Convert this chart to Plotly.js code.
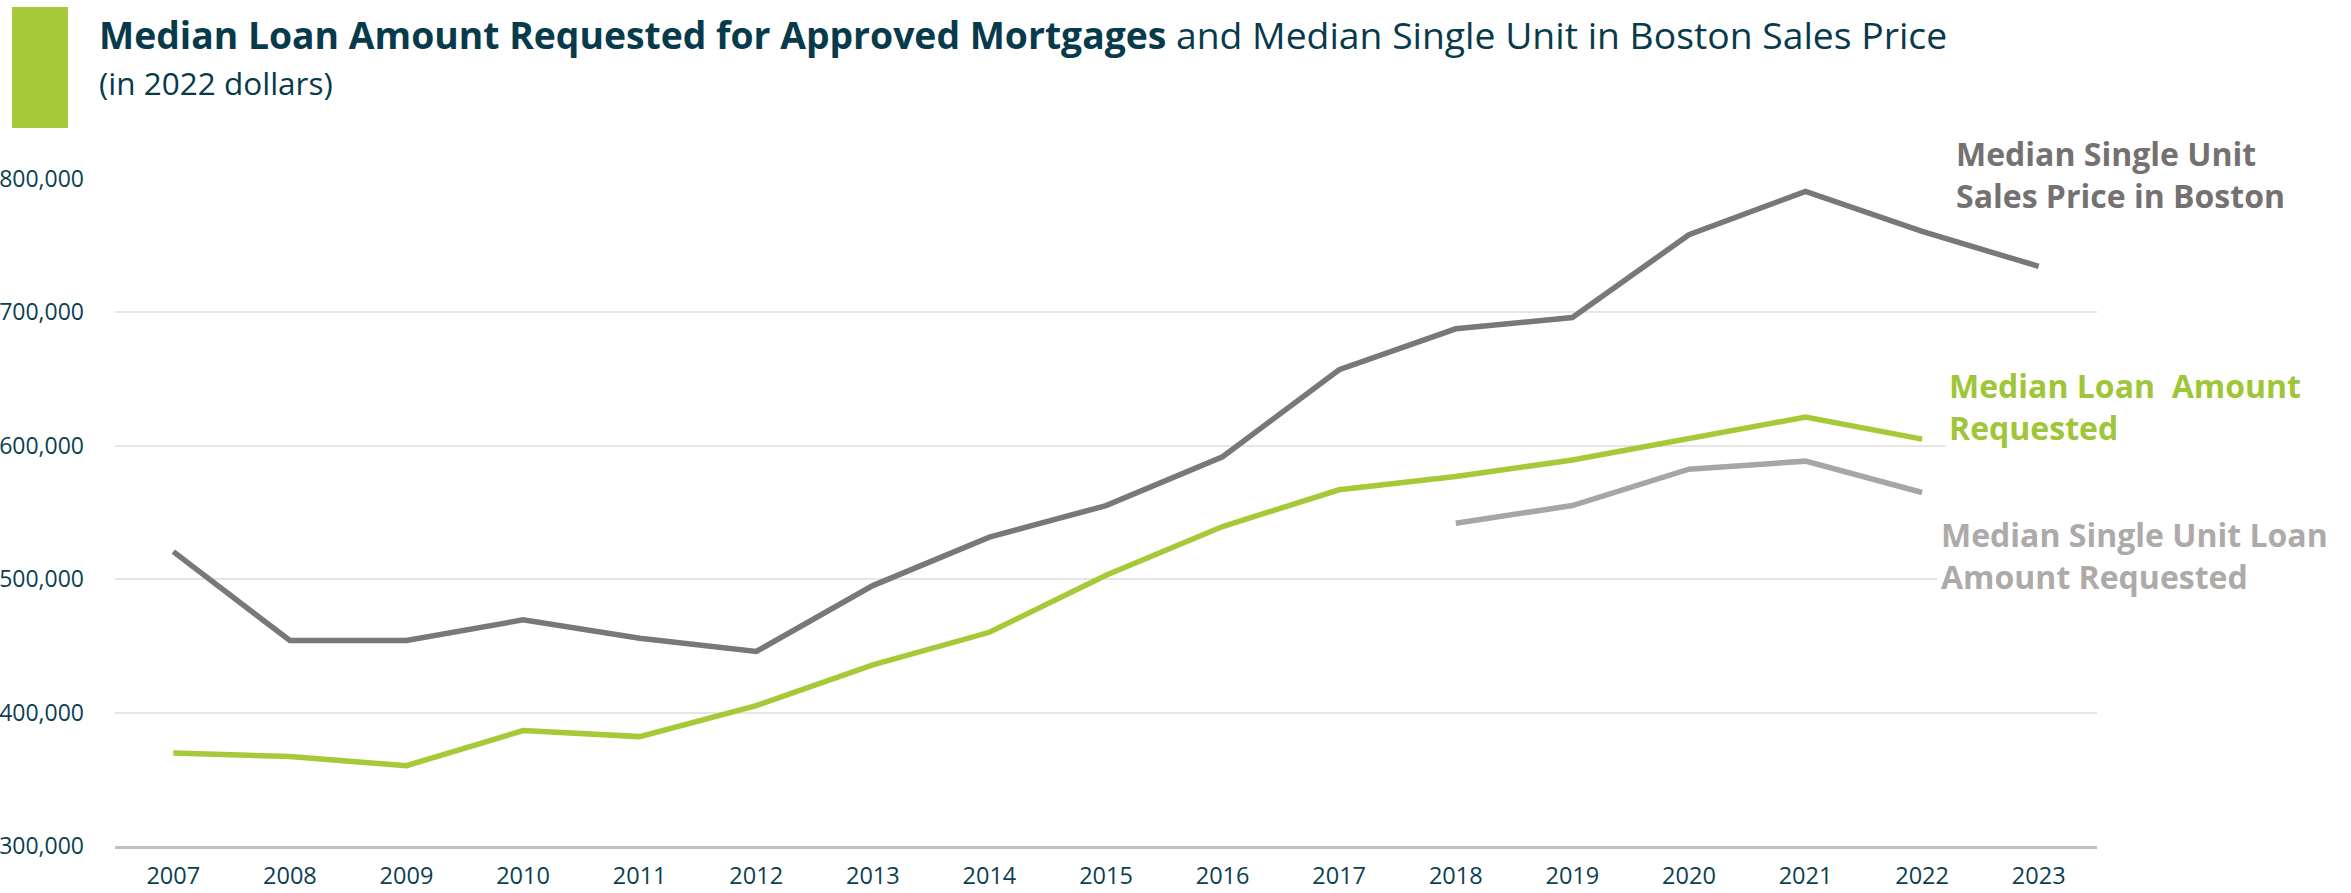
<!DOCTYPE html>
<html>
<head>
<meta charset="utf-8">
<script src="https://cdn.plot.ly/plotly-3.0.1.min.js"></script>
<style>
  html, body { margin: 0; padding: 0; background: #ffffff; }
  #chart { width: 2351px; height: 893px; }
</style>
</head>
<body>
<div id="chart"></div>
<script>
// ---- Data ----
const years = [2007, 2008, 2009, 2010, 2011, 2012, 2013, 2014, 2015, 2016, 2017, 2018, 2019, 2020, 2021, 2022, 2023];

// Median Single Unit Sales Price in Boston (2022 dollars)
const bostonSalesPrice = [520700, 454000, 454000, 469500, 455800, 445800, 495200, 531500, 555200, 591800, 657000, 687700, 696200, 758200, 790700, 760700, 734500];

// Median Loan Amount Requested (2007–2022)
const loanYears = [2007, 2008, 2009, 2010, 2011, 2012, 2013, 2014, 2015, 2016, 2017, 2018, 2019, 2020, 2021, 2022];
const medianLoanAmount = [369800, 367000, 360200, 386500, 382000, 405200, 435800, 460200, 503000, 539500, 567000, 577000, 589300, 605000, 621500, 605000];

// Median Single Unit Loan Amount Requested (2018–2022)
const singleUnitYears = [2018, 2019, 2020, 2021, 2022];
const singleUnitLoanAmount = [542000, 555200, 582500, 588500, 565000];

const yTickVals = [300000, 400000, 500000, 600000, 700000, 800000];

const titleBold = "Median Loan Amount Requested for Approved Mortgages";
const titleRest = " and Median Single Unit in Boston Sales Price";
const subtitle = "(in 2022 dollars)";
const labelBoston = "Median Single Unit<br>Sales Price in Boston";
const labelLoan = "Median Loan&nbsp; Amount<br>Requested";
const labelSingle = "Median Single Unit Loan<br>Amount Requested";

// ---- Styling ----
const FONT = "'Open Sans', 'Noto Sans', sans-serif";
const TEAL = "#0b3f52";
const DARK_GRAY = "#787878";
const GREEN = "#a6c937";
const LIGHT_GRAY = "#a6a6a6";

const traces = [
  {
    x: years, y: bostonSalesPrice, type: "scatter", mode: "lines",
    name: "Median Single Unit Sales Price in Boston",
    line: { color: DARK_GRAY, width: 5.5 }, hoverinfo: "x+y"
  },
  {
    x: loanYears, y: medianLoanAmount, type: "scatter", mode: "lines",
    name: "Median Loan Amount Requested",
    line: { color: GREEN, width: 5.5 }, hoverinfo: "x+y"
  },
  {
    x: singleUnitYears, y: singleUnitLoanAmount, type: "scatter", mode: "lines",
    name: "Median Single Unit Loan Amount Requested",
    line: { color: LIGHT_GRAY, width: 5.5 }, hoverinfo: "x+y"
  }
];

// plot area: x 115..2097, y 179..846
const L = 115, R = 2097, T = 179, B = 846;
const px = v => (v - L) / (R - L);
const py = v => (B - v) / (B - T);

const layout = {
  width: 2351, height: 893,
  margin: { l: L, r: 2351 - R, t: T, b: 893 - B, pad: 0 },
  paper_bgcolor: "#ffffff", plot_bgcolor: "#ffffff",
  showlegend: false,
  font: { family: FONT, color: TEAL },
  xaxis: {
    range: [2006.5, 2023.5],
    tickmode: "array", tickvals: years, ticktext: years.map(String),
    showgrid: false, zeroline: false,
    showline: true, linecolor: "#bfbfbf", linewidth: 2.5,
    ticks: "", ticklabelstandoff: 7,
    tickfont: { family: FONT, size: 23.5, color: TEAL },
    fixedrange: true
  },
  yaxis: {
    range: [300000, 800000],
    tickmode: "array", tickvals: yTickVals,
    tickformat: ",d", tickprefix: "$",
    showgrid: true, gridcolor: "#e6e6e6", gridwidth: 2,
    zeroline: false, showline: false,
    ticks: "", ticklabelstandoff: 30,
    tickfont: { family: FONT, size: 23, color: TEAL },
    fixedrange: true
  },
  shapes: [
    {
      type: "rect", xref: "paper", yref: "paper",
      x0: px(12), x1: px(68), y0: py(128), y1: py(7),
      fillcolor: "#a6c939", line: { width: 0 }, layer: "above"
    }
  ],
  annotations: [
    {
      xref: "paper", yref: "paper", x: px(97), y: py(7),
      xanchor: "left", yanchor: "top", align: "left", showarrow: false,
      text: "<b>" + titleBold + "</b>" + titleRest,
      font: { family: FONT, size: 37.3, color: "#073a4b" }
    },
    {
      xref: "paper", yref: "paper", x: px(97), y: py(59),
      xanchor: "left", yanchor: "top", align: "left", showarrow: false,
      text: subtitle,
      font: { family: FONT, size: 31.5, color: "#073a4b" }
    },
    {
      xref: "paper", yref: "paper", x: px(1952), y: py(174),
      xanchor: "left", yanchor: "middle", align: "left", showarrow: false,
      text: "<b>" + labelBoston + "</b>", bgcolor: "#ffffff", borderpad: 3,
      font: { family: FONT, size: 32, color: "#767171" }
    },
    {
      xref: "paper", yref: "paper", x: px(1945), y: py(406),
      xanchor: "left", yanchor: "middle", align: "left", showarrow: false,
      text: "<b>" + labelLoan + "</b>", bgcolor: "#ffffff", borderpad: 3,
      font: { family: FONT, size: 32, color: "#9ec638" }
    },
    {
      xref: "paper", yref: "paper", x: px(1937), y: py(555),
      xanchor: "left", yanchor: "middle", align: "left", showarrow: false,
      text: "<b>" + labelSingle + "</b>", bgcolor: "#ffffff", borderpad: 3,
      font: { family: FONT, size: 32, color: "#aeaaaa" }
    }
  ]
};

Plotly.newPlot("chart", traces, layout, { displayModeBar: false, staticPlot: true });
</script>
</body>
</html>
